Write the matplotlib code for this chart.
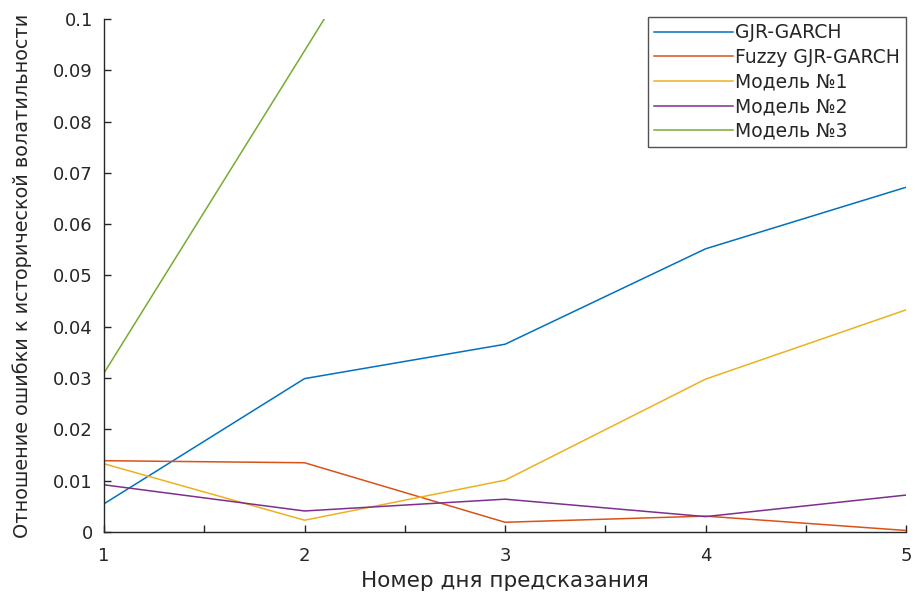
import matplotlib
matplotlib.use("Agg")
import matplotlib.pyplot as plt
from matplotlib.ticker import MultipleLocator, FuncFormatter

plt.rcParams['font.family'] = ['DejaVu Sans']

days = [1, 2, 3, 4, 5]
gjr_garch = [0.0055, 0.0299, 0.0366, 0.0552, 0.0672]
fuzzy_gjr_garch = [0.0139, 0.0135, 0.0019, 0.0031, 0.0003]
model_1 = [0.0133, 0.0023, 0.0101, 0.0298, 0.0433]
model_2 = [0.0092, 0.0041, 0.0064, 0.0030, 0.0072]
model_3 = [0.0310, 0.0938, 0.1570, 0.2100, 0.2600]

series = [
    ("GJR-GARCH", gjr_garch, "#0072BD"),
    ("Fuzzy GJR-GARCH", fuzzy_gjr_garch, "#D95319"),
    ("Модель №1", model_1, "#EDB120"),
    ("Модель №2", model_2, "#7E2F8E"),
    ("Модель №3", model_3, "#77AC30"),
]

fig = plt.figure(figsize=(9.15, 6.01), dpi=100)
ax = fig.add_axes([0.1137, 0.1148, 0.8765, 0.8536])

for name, vals, col in series:
    ax.plot(days, vals, color=col, lw=1.1, label=name)

ax.set_xlim(1, 5)
ax.set_ylim(0, 0.1)
ax.xaxis.set_major_locator(MultipleLocator(0.5))
ax.xaxis.set_major_formatter(FuncFormatter(lambda v, p: f"{int(v)}" if float(v).is_integer() else ""))
ax.yaxis.set_major_locator(MultipleLocator(0.01))
ax.yaxis.set_major_formatter(FuncFormatter(lambda v, p: "0" if abs(v) < 1e-12 else f"{v:.2f}".rstrip('0')))

grey = "#262626"
for side in ("top", "right"):
    ax.spines[side].set_visible(False)
for side in ("left", "bottom"):
    ax.spines[side].set_color(grey)
    ax.spines[side].set_linewidth(1.0)
ax.tick_params(direction="in", length=5, width=1.0, colors=grey, labelsize=13)
ax.tick_params(axis="x", pad=11)
ax.tick_params(axis="y", pad=8)

ax.set_xlabel("Номер дня предсказания", fontsize=15.5, color=grey, labelpad=4)
ax.set_ylabel("Отношение ошибки к исторической волатильности", fontsize=13.9, color=grey, labelpad=15)

leg = ax.legend(loc="upper right", bbox_to_anchor=(0.9902, 0.9712), bbox_transform=fig.transFigure,
                fontsize=13.5, frameon=True, fancybox=False, handlelength=4.2,
                handletextpad=0.12, borderpad=0.32, labelspacing=0.3, borderaxespad=0)
leg.get_frame().set_edgecolor(grey)
leg.get_frame().set_linewidth(1.0)
for t in leg.get_texts():
    t.set_color(grey)

fig.savefig("out.png", dpi=100)
